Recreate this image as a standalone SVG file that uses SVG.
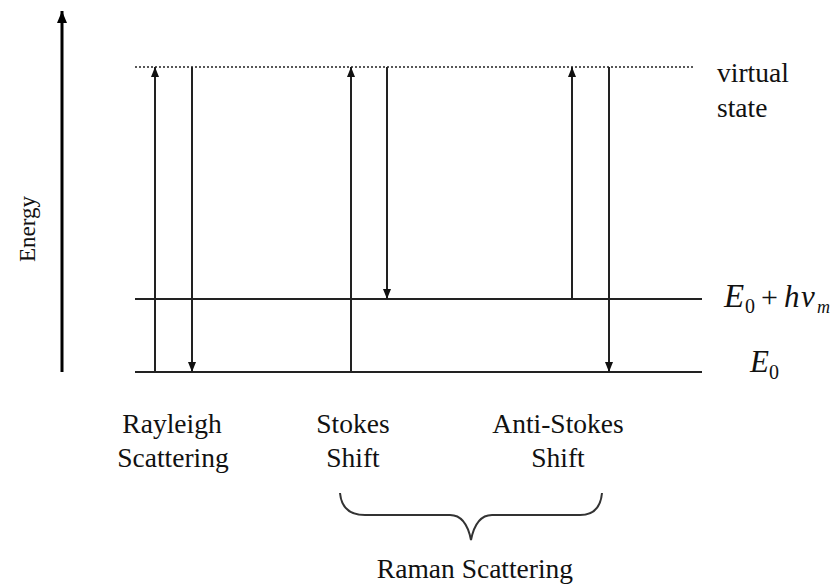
<svg xmlns="http://www.w3.org/2000/svg" width="834" height="585" viewBox="0 0 834 585">
  <style>
    .lbl { font-family: "Liberation Serif", "Times New Roman", serif; font-size: 27.5px; fill: #111; }
    .math { font-family: "Liberation Serif", "Times New Roman", serif; font-style: italic; fill: #111; }
    .up { font-style: normal; }
    .lvl { stroke: #222; stroke-width: 2; fill: none; }
    .tr { stroke: #222; stroke-width: 2; fill: none; }
  </style>
  <defs>
    <marker id="head" markerUnits="userSpaceOnUse" markerWidth="10" markerHeight="10" viewBox="0 0 10 10" refX="10" refY="5" orient="auto">
      <path d="M0,1 L10,5 L0,9 Z" fill="#111"/>
    </marker>
    <marker id="axhead" markerUnits="userSpaceOnUse" markerWidth="12" markerHeight="12" viewBox="0 0 12 12" refX="12" refY="6" orient="auto">
      <path d="M0,1 L12,6 L0,11 Z" fill="#000"/>
    </marker>
  </defs>

  <!-- energy axis -->
  <g id="axis">
    <line x1="62" y1="372" x2="62" y2="11" stroke="#000" stroke-width="3" marker-end="url(#axhead)"/>
    <text class="lbl" transform="translate(35,229) rotate(-90)" text-anchor="middle" style="font-size:23px">Energy</text>
  </g>

  <!-- energy levels -->
  <g id="levels">
    <line id="virtual-level" x1="135" y1="67" x2="693" y2="67" stroke="#222" stroke-width="1.5" stroke-dasharray="2,2"/>
    <line id="excited-level" class="lvl" x1="135" y1="299" x2="702" y2="299"/>
    <line id="ground-level" class="lvl" x1="135" y1="372" x2="702" y2="372"/>
  </g>

  <!-- transitions -->
  <g id="connectors">
    <line class="tr" x1="155" y1="372" x2="155" y2="67" marker-end="url(#head)"/>
    <line class="tr" x1="192" y1="67" x2="192" y2="372" marker-end="url(#head)"/>
    <line class="tr" x1="351" y1="372" x2="351" y2="67" marker-end="url(#head)"/>
    <line class="tr" x1="387" y1="67" x2="387" y2="299" marker-end="url(#head)"/>
    <line class="tr" x1="572" y1="299" x2="572" y2="67" marker-end="url(#head)"/>
    <line class="tr" x1="609" y1="67" x2="609" y2="372" marker-end="url(#head)"/>
  </g>

  <!-- level labels -->
  <g id="virtual-label">
    <text class="lbl" x="717" y="82">virtual</text>
    <text class="lbl" x="717" y="117">state</text>
  </g>
  <g id="excited-label">
    <text class="math" x="724" y="307" font-size="33">E</text>
    <text class="math up" x="745" y="313" font-size="20">0</text>
    <text class="math up" x="761" y="307" font-size="30">+</text>
    <text class="math" x="784" y="307" font-size="31">h</text>
    <text class="math" x="801" y="307" font-size="31">ν</text>
    <text class="math" x="817" y="313" font-size="18">m</text>
  </g>
  <g id="ground-label">
    <text class="math" x="750" y="372" font-size="31">E</text>
    <text class="math up" x="769" y="379" font-size="20">0</text>
  </g>

  <!-- process labels -->
  <g id="rayleigh" text-anchor="middle">
    <text class="lbl" x="172" y="433">Rayleigh</text>
    <text class="lbl" x="173" y="467">Scattering</text>
  </g>
  <g id="stokes" text-anchor="middle">
    <text class="lbl" x="353" y="433">Stokes</text>
    <text class="lbl" x="353" y="467">Shift</text>
  </g>
  <g id="anti-stokes" text-anchor="middle">
    <text class="lbl" x="558" y="433">Anti-Stokes</text>
    <text class="lbl" x="558" y="467">Shift</text>
  </g>

  <!-- brace grouping the two Raman processes -->
  <g id="raman">
    <path d="M340,493 Q342,515 365,515 L450,515 Q466,515 471,540 Q476,515 492,515 L580,515 Q600,515 602,493" stroke="#333" stroke-width="2" fill="none"/>
    <text class="lbl" x="475" y="578" text-anchor="middle">Raman Scattering</text>
  </g>
</svg>
